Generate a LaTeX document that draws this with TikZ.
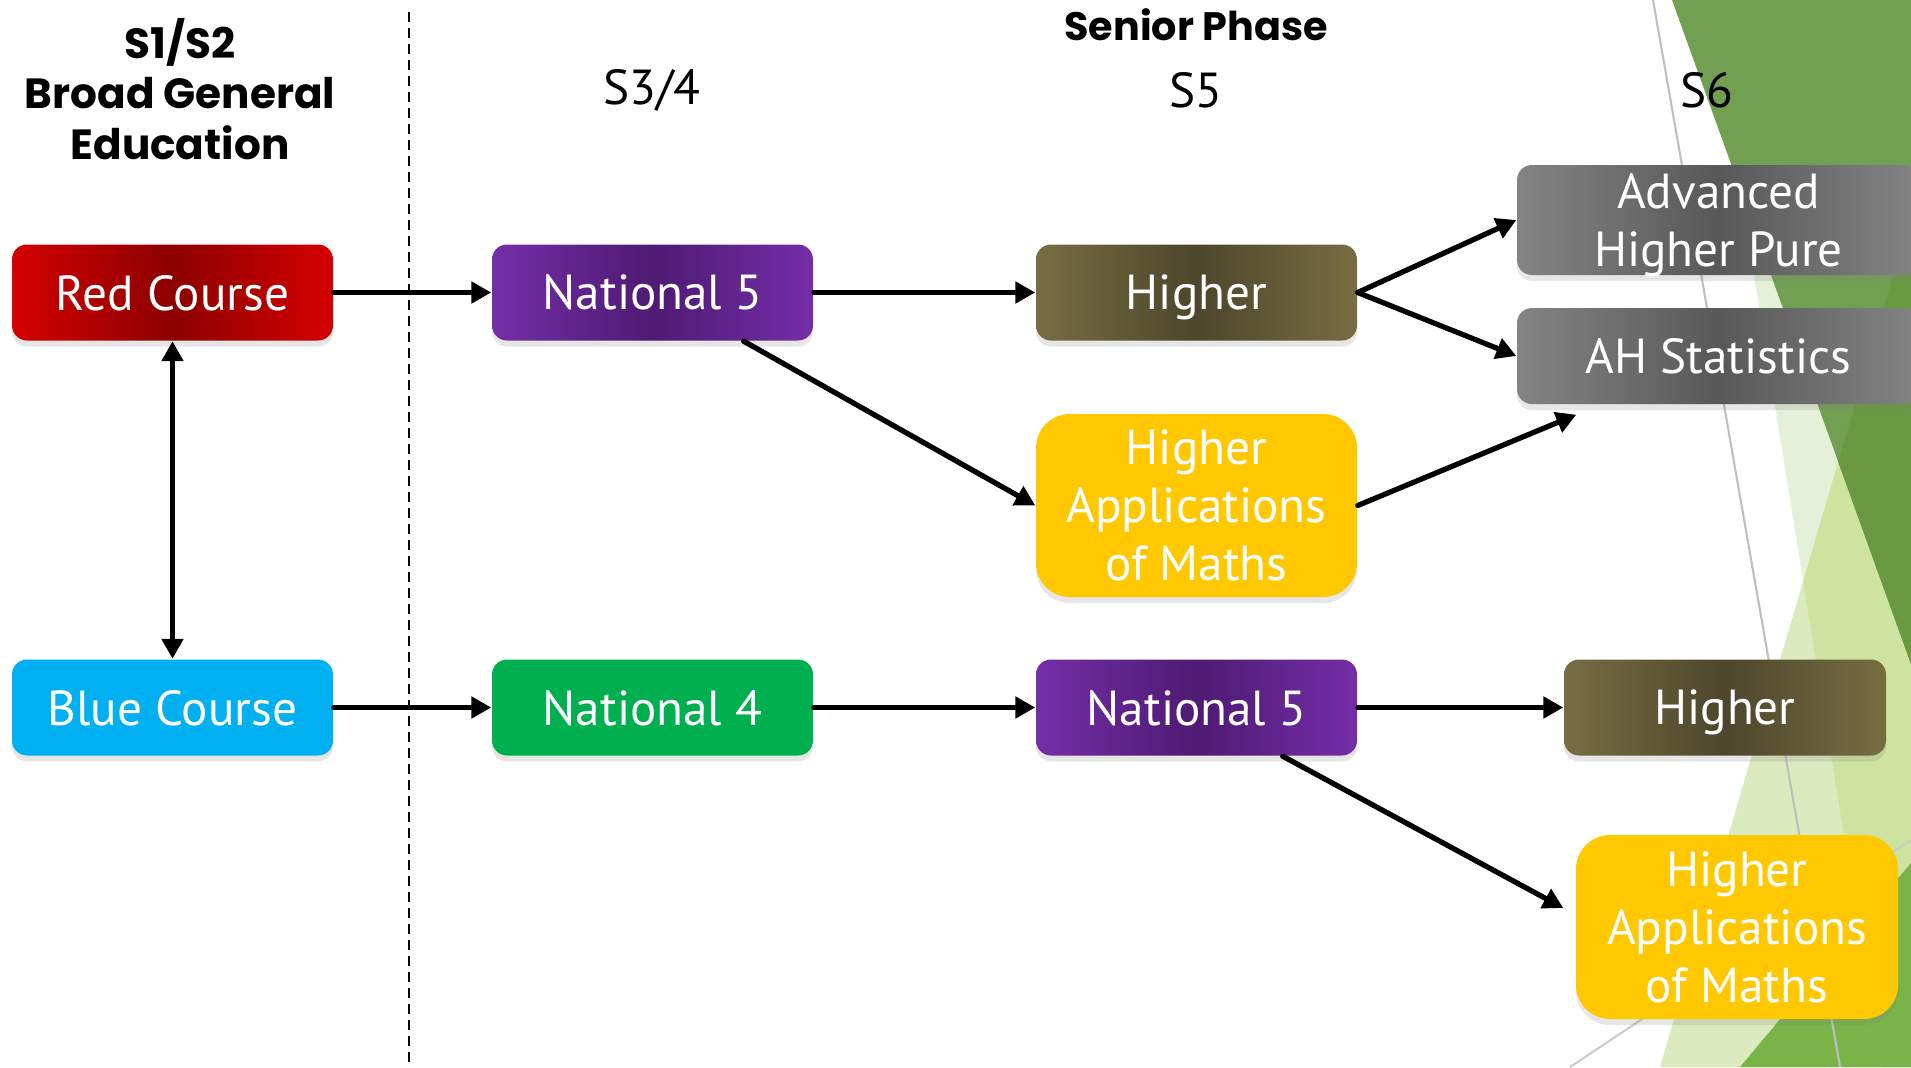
\documentclass[tikz,border=0pt]{standalone}
\usepackage{fontspec}
\setmainfont{PT Sans}
\newfontfamily\headfont{Poppins}
\usetikzlibrary{arrows.meta,shadows}
\definecolor{darkgrn}{RGB}{113,160,82}
\definecolor{deepgrn}{RGB}{105,153,64}
\definecolor{palegrn}{RGB}{229,240,216}
\definecolor{lightgrn}{RGB}{220,234,192}
\definecolor{midgrn}{RGB}{207,227,160}
\definecolor{brightgrn}{RGB}{122,180,72}
\definecolor{redout}{RGB}{212,0,0}
\definecolor{redin}{RGB}{140,0,0}
\definecolor{purpout}{RGB}{116,46,168}
\definecolor{purpin}{RGB}{78,26,114}
\definecolor{oliveout}{RGB}{120,109,66}
\definecolor{olivein}{RGB}{78,70,44}
\definecolor{greyout}{RGB}{132,132,132}
\definecolor{greyin}{RGB}{88,88,88}
\definecolor{sunny}{RGB}{255,200,0}
\definecolor{sky}{RGB}{0,176,240}
\definecolor{grass}{RGB}{0,176,80}
\begin{document}
\begin{tikzpicture}[
  >={Triangle[length=2mm,width=2.1mm]},
  course/.style={rounded corners=1.5mm, text=white, align=center, minimum width=3.21cm,
    minimum height=0.96cm, inner sep=0pt, text depth=0pt, font=\fontsize{14}{16.5}\selectfont,
    drop shadow={shadow xshift=0pt, shadow yshift=-0.6mm, opacity=0.2}},
  glow/.style 2 args={left color=#2, right color=#2, middle color=#1},
  flow/.style={line width=1.5pt, line cap=round},
  stage/.style={font=\fontsize{14}{16}\selectfont},
  phase/.style={font=\headfont\bfseries\fontsize{12}{14.4}\selectfont, align=center}
]
\useasboundingbox (0,0) rectangle (19.11,10.67);
\fill[palegrn] (17.10,10.67) -- (19.11,10.67) -- (19.11,0) -- (18.81,0) -- cycle;
\fill[lightgrn] (19.11,8.52) -- (19.11,0) -- (16.60,0) -- cycle;
\begin{scope}
\clip (19.11,8.52) -- (19.11,0) -- (16.60,0) -- cycle;
\fill[midgrn] (17.10,10.67) -- (19.11,10.67) -- (19.11,0) -- (18.81,0) -- cycle;
\end{scope}
\fill[darkgrn] (16.72,10.67) -- (19.11,10.67) -- (19.11,4.03) -- cycle;
\begin{scope}
\clip (16.72,10.67) -- (19.11,10.67) -- (19.11,4.03) -- cycle;
\fill[deepgrn] (19.11,8.52) -- (19.11,0) -- (16.60,0) -- cycle;
\end{scope}
\fill[brightgrn] (19.11,2.04) -- (19.11,0) -- (17.40,0) -- cycle;
\draw[black!25, line width=0.6pt] (16.53,10.67) -- (18.40,0);
\draw[black!20, line width=0.6pt] (15.70,0) -- (19.11,2.27);
\draw[dash pattern=on 1mm off 0.6mm, line width=0.6pt] (4.09,10.55) -- (4.09,0);

\node[phase] (bge) at (1.80,9.78) {S1/S2\\Broad General\\Education};
\node[phase, font=\headfont\bfseries\fontsize{11.3}{14}\selectfont] (senior) at (11.96,10.42) {Senior Phase};
\node[stage] (s34) at (6.52,9.77) {S3/4};
\node[stage] (s5) at (11.96,9.77) {S5};
\node[stage] (s6) at (17.07,9.77) {S6};

\node[course, glow={redin}{redout}] (redc) at (1.725,7.745) {Red Course};
\node[course, fill=sky] (bluec) at (1.725,3.595) {Blue Course};
\node[course, glow={purpin}{purpout}] (nat5) at (6.525,7.745) {National 5};
\node[course, fill=grass] (nat4) at (6.525,3.595) {National 4};
\node[course, glow={olivein}{oliveout}] (high5) at (11.965,7.745) {Higher};
\node[course, fill=sunny, minimum height=1.83cm, rounded corners=3.4mm] (apps5) at (11.965,5.615) {Higher\\Applications\\of Maths};
\node[course, glow={purpin}{purpout}] (nat5b) at (11.965,3.595) {National 5};
\node[course, glow={greyin}{greyout}, minimum width=4.03cm, minimum height=1.10cm] (ahp) at (17.185,8.47) {Advanced\\Higher Pure};
\node[course, glow={greyin}{greyout}, minimum width=4.03cm] (ahs) at (17.185,7.11) {AH Statistics};
\node[course, glow={olivein}{oliveout}, minimum width=3.22cm] (high6) at (17.25,3.595) {Higher};
\node[course, fill=sunny, minimum width=3.22cm, minimum height=1.84cm, rounded corners=3.4mm] (apps6) at (17.37,1.40) {Higher\\Applications\\of Maths};

\draw[flow,->] (redc) -- (nat5);
\draw[flow,<->] (redc) -- (bluec);
\draw[flow,->] (bluec) -- (nat4);
\draw[flow,->] (nat5) -- (high5);
\draw[flow,->] ([xshift=-7mm]nat5.south east) -- (apps5.west);
\draw[flow,->] (high5.east) -- (ahp.west);
\draw[flow,->] (high5.east) -- (ahs.west);
\draw[flow,->] (apps5.east) -- ([xshift=6mm,yshift=-1mm]ahs.south west);
\draw[flow,->] (nat4) -- (nat5b);
\draw[flow,->] (nat5b) -- (high6);
\draw[flow,->] ([xshift=-7.5mm]nat5b.south east) -- ([xshift=-1.2mm,yshift=1.9mm]apps6.west);
\end{tikzpicture}
\end{document}
